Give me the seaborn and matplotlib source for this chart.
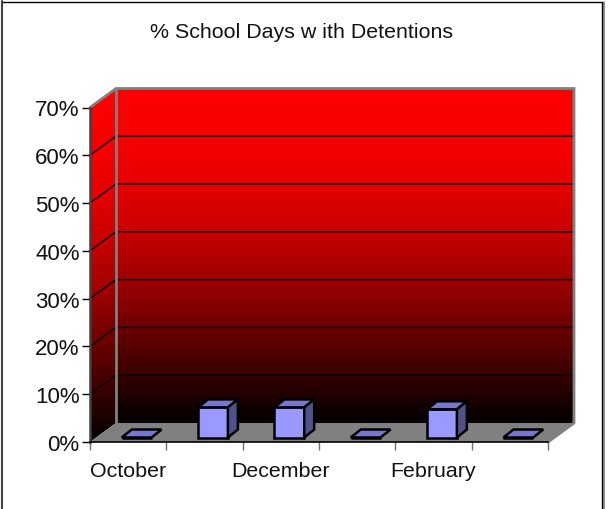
import numpy as np
import pandas as pd
import matplotlib
matplotlib.use("Agg")
import matplotlib.pyplot as plt
from matplotlib.patches import Polygon
from matplotlib.colors import LinearSegmentedColormap
from matplotlib.lines import Line2D
import seaborn as sns

months = ["October", "November", "December", "January", "February", "March"]
tick_labels = ["October", "", "December", "", "February", ""]
percent = [0.0, 6.3, 6.3, 0.0, 5.9, 0.0]
y_ticks = [0, 10, 20, 30, 40, 50, 60, 70]

W, H = 608, 510
sns.set_theme(style="white")
plt.rcParams["font.family"] = ["Liberation Sans", "DejaVu Sans"]
fig = plt.figure(figsize=(W / 100, H / 100), dpi=100, facecolor="white")
L, R, T, B = 90, 548, 108.5, 443
ax = fig.add_axes([L / W, 1 - B / H, (R - L) / W, (B - T) / H])
ax.patch.set_visible(False)

df = pd.DataFrame({"month": months, "percent": percent})
sns.barplot(data=df, x="month", y="percent", order=months, ax=ax, width=0.39,
            color="#9999FF", saturation=1, edgecolor="black", linewidth=1.8, zorder=6)

ux = 76.33   # pixels per category
uy = (B - T) / 70  # pixels per percent
DX, DY = 26 / ux, 19 / uy
xmin, xmax, ymax = -0.5, 5.5, 70

stops = [(0, "#040000"), (0.14, "#380000"), (0.29, "#700000"), (0.43, "#A00000"),
         (0.57, "#C80000"), (0.72, "#E80000"), (0.86, "#F8F8F8"), (1, "#FF0000")]
stops[6] = (0.86, "#F80000")
cmap_wall = LinearSegmentedColormap.from_list("wall", stops, N=64)
grad = np.linspace(1, 0, 256)[:, None]
# back wall
ax.imshow(grad, cmap=cmap_wall, aspect="auto", vmin=0, vmax=1, zorder=1, clip_on=False,
          extent=(xmin + DX, xmax + DX, DY, ymax + DY))
# side wall
im = ax.imshow(grad, cmap=cmap_wall, aspect="auto", vmin=0, vmax=1, zorder=1,
               extent=(xmin, xmin + DX, 0, ymax + DY))
side = Polygon([(xmin, 0), (xmin + DX, DY), (xmin + DX, ymax + DY), (xmin, ymax)],
               closed=True, transform=ax.transData, fc="none", ec="none", clip_on=False)
ax.add_patch(side)
im.set_clip_path(side)
im.set_clip_box(fig.bbox)
# floor
ax.add_patch(Polygon([(xmin, 0), (xmax, 0), (xmax + DX, DY), (xmin + DX, DY)], closed=True,
                     fc="#808080", ec="none", zorder=2, clip_on=False))
# wall grid lines
for v in y_ticks[1:-1]:
    ax.plot([xmin, xmin + DX, xmax + DX], [v, v + DY, v + DY], color="black", lw=1,
            zorder=3, clip_on=False)
# wall edges
ax.plot([xmin + DX, xmin + DX], [DY, ymax + DY], color="#808080", lw=2, zorder=4, clip_on=False)
ax.plot([xmin, xmin + DX, xmax + DX, xmax + DX, xmax], [ymax, ymax + DY, ymax + DY, DY, 0],
        color="#808080", lw=2, zorder=4, clip_on=False, solid_joinstyle="miter")

# 3D bars
dbx, dby = 10 / ux, 8 / uy
sx, sy = 8.5 / ux, 4.5 / uy
for p in list(ax.patches):
    if not hasattr(p, "get_width"):
        continue
    x0, w, h = p.get_x() + sx, p.get_width(), p.get_height()
    p.set_x(x0)
    p.set_y(sy)
    p.set_clip_on(False)
    ax.add_patch(Polygon([(x0, sy + h), (x0 + w, sy + h), (x0 + w + dbx, sy + h + dby), (x0 + dbx, sy + h + dby)],
                         closed=True, fc="#7777CC", ec="black", lw=1.8, zorder=6, clip_on=False,
                         joinstyle="miter"))
    if h > 0:
        ax.add_patch(Polygon([(x0 + w, sy), (x0 + w + dbx, sy + dby), (x0 + w + dbx, sy + h + dby), (x0 + w, sy + h)],
                             closed=True, fc="#50508C", ec="black", lw=1.8, zorder=6, clip_on=False,
                             joinstyle="miter"))

ax.set_xlim(xmin, xmax)
ax.set_ylim(0, ymax)
ax.set_xlabel("")
ax.set_ylabel("")
ax.set_xticks(range(len(months)))
ax.set_xticklabels(tick_labels, fontsize=15.4, color="#111111")
ax.set_xticks(np.arange(xmin, xmax + 0.5), minor=True)
ax.set_yticks(y_ticks)
ax.set_yticklabels([f"{v}%" for v in y_ticks], fontsize=16, color="#111111")
ax.tick_params(axis="x", which="major", length=0, pad=13.5)
ax.tick_params(axis="x", which="minor", length=6, width=1, color="#707070", bottom=True)
ax.tick_params(axis="y", length=6, width=1, color="black", pad=1.5, left=True)
for s in ["top", "right"]:
    ax.spines[s].set_visible(False)
ax.spines["left"].set_color("#404040")
ax.spines["left"].set_linewidth(1.8)
ax.spines["left"].set_zorder(5)
ax.spines["bottom"].set_color("black")
ax.spines["bottom"].set_linewidth(1.2)
ax.spines["bottom"].set_zorder(5)

fig.text(301.5 / W, 1 - 32.5 / H, "% School Days w ith Detentions", ha="center", va="center",
         fontsize=15.4, color="#111111")

# chart frame
def frame(xs, ys, c, lw):
    fig.add_artist(Line2D([x / W for x in xs], [1 - y / H for y in ys], color=c, lw=lw))
frame([603.5, 603.5], [3, H], "#808080", 1.2)
frame([602, 602], [2.5, H], "black", 1)
frame([2, 602], [2.5, 2.5], "black", 1)
frame([2, 2], [2, H], "#404040", 1.5)

fig.savefig("out.png", dpi=100, facecolor="white")
